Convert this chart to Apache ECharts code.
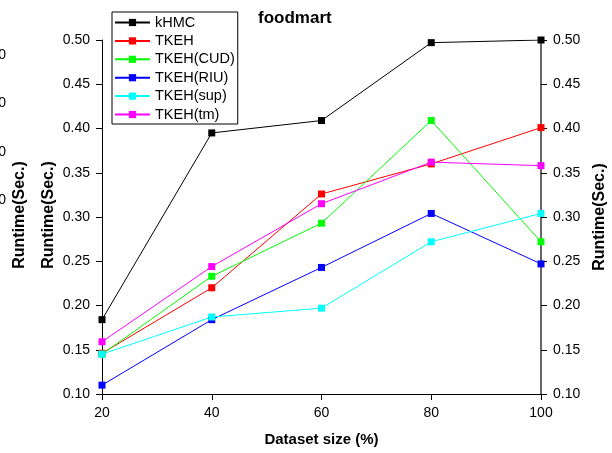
<!DOCTYPE html>
<html lang="en">
<head>
    <meta charset="utf-8">
    <script src="https://cdn.jsdelivr.net/npm/echarts@6/dist/echarts.min.js"></script>
    <title>foodmart</title>
    <style>
        html, body {margin: 0; padding: 0; background: #fff;}
    </style>
</head>
<body>
<div id="main" style="width: 612px;height:453px;"></div>
<script type="text/javascript">
    // dataset size (%)
    var sizes = [20, 40, 60, 80, 100];
    // runtime (sec.) per algorithm
    var kHMC = [0.184, 0.395, 0.409, 0.497, 0.500];
    var TKEH = [0.146, 0.220, 0.326, 0.360, 0.401];
    var TKEH_CUD = [0.145, 0.233, 0.293, 0.409, 0.272];
    var TKEH_RIU = [0.110, 0.184, 0.243, 0.304, 0.247];
    var TKEH_sup = [0.145, 0.187, 0.197, 0.272, 0.304];
    var TKEH_tm = [0.159, 0.244, 0.315, 0.362, 0.358];

    var names = ['kHMC', 'TKEH', 'TKEH(CUD)', 'TKEH(RIU)', 'TKEH(sup)', 'TKEH(tm)'];
    var values = [kHMC, TKEH, TKEH_CUD, TKEH_RIU, TKEH_sup, TKEH_tm];
    var colors = ['#000000', '#ff0000', '#00ff00', '#0000ff', '#00ffff', '#ff00ff'];

    var font = 'Liberation Sans, Arial, sans-serif';

    function pairs(arr) {
        return arr.map(function (v, i) { return [sizes[i], v]; });
    }

    var series = names.map(function (name, i) {
        return {
            name: name,
            type: 'line',
            data: pairs(values[i]),
            symbol: 'rect',
            symbolSize: 7,
            color: colors[i],
            lineStyle: {width: 1, color: colors[i]},
            itemStyle: {color: colors[i]},
            yAxisIndex: 0,
            animation: false
        };
    });

    var myChart = echarts.init(document.getElementById('main'));
    var yAxisBase = {
        type: 'value',
        min: 0.1,
        max: 0.5,
        interval: 0.05,
        splitLine: {show: false},
        axisTick: {show: true, length: 6, lineStyle: {color: '#000'}},
        axisLabel: {
            color: '#000', fontSize: 14, fontFamily: font, margin: 12,
            formatter: function (v) { return v.toFixed(2); }
        }
    };

    // leftover labels of the neighbouring plots, cut by the left edge
    var sideLabel = {text: 'Runtime(Sec.)', font: 'bold 16px ' + font, fill: '#000', align: 'center', verticalAlign: 'middle'};
    var cutTick = {font: '14px ' + font, fill: '#000', align: 'right', verticalAlign: 'middle'};

    var option = {
        backgroundColor: '#fff',
        animation: false,
        title: {
            text: 'foodmart',
            left: 258,
            top: 10,
            padding: 0,
            textStyle: {fontSize: 17, fontWeight: 'bold', color: '#000', fontFamily: font}
        },
        legend: {
            orient: 'vertical',
            left: 112,
            top: 12,
            padding: [3, 3, 2, 2],
            borderColor: '#000',
            borderWidth: 1,
            itemWidth: 35,
            itemHeight: 9,
            itemGap: 3.4,
            textStyle: {fontSize: 14.5, lineHeight: 14, color: '#000', fontFamily: font},
            data: names
        },
        grid: {left: 102, right: 71, top: 40, bottom: 59, containLabel: false, outerBoundsMode: 'none'},
        xAxis: {
            type: 'value',
            min: 20,
            max: 100,
            interval: 20,
            name: 'Dataset size (%)',
            nameLocation: 'middle',
            nameGap: 38,
            nameTextStyle: {fontSize: 15, fontWeight: 'bold', color: '#000', fontFamily: font},
            splitLine: {show: false},
            axisLine: {lineStyle: {color: '#000', width: 1}},
            axisTick: {length: 6, lineStyle: {color: '#000'}},
            axisLabel: {color: '#000', fontSize: 14, fontFamily: font, margin: 12}
        },
        yAxis: [
            Object.assign({}, yAxisBase, {
                position: 'left',
                axisLine: {show: true, lineStyle: {color: '#000', width: 1}}
            }),
            Object.assign({}, yAxisBase, {
                position: 'right',
                name: 'Runtime(Sec.)',
                nameLocation: 'middle',
                nameGap: 49,
                nameTextStyle: {fontSize: 16, fontWeight: 'bold', color: '#000', fontFamily: font},
                axisLine: {show: true, lineStyle: {color: '#333', width: 1.5}}
            })
        ],
        graphic: [
            {type: 'text', x: 49, y: 215, rotation: Math.PI / 2, style: sideLabel},
            {type: 'text', x: 20, y: 215, rotation: Math.PI / 2, style: sideLabel},
            {type: 'text', x: 6, y: 55, style: Object.assign({text: '0.50'}, cutTick)},
            {type: 'text', x: 6, y: 103, style: Object.assign({text: '0.40'}, cutTick)},
            {type: 'text', x: 6, y: 152, style: Object.assign({text: '0.30'}, cutTick)},
            {type: 'text', x: 6, y: 200, style: Object.assign({text: '0.20'}, cutTick)}
        ],
        series: series
    };

    myChart.setOption(option);
</script>
</body>
</html>
